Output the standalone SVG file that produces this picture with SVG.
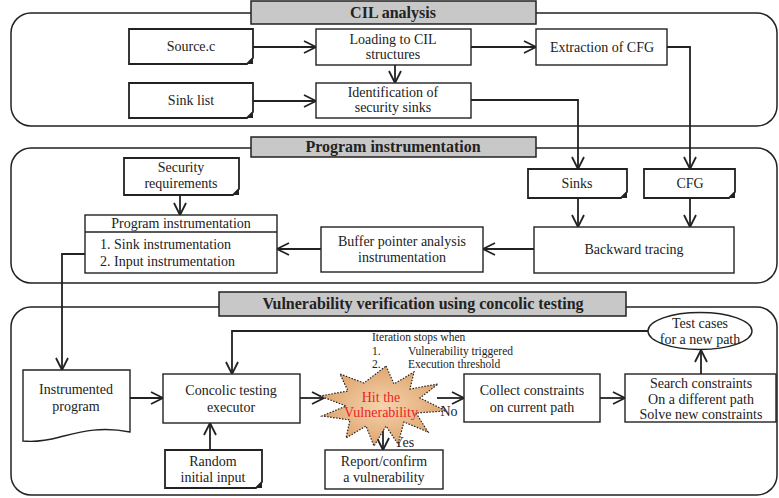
<svg xmlns="http://www.w3.org/2000/svg" width="779" height="498" viewBox="0 0 779 498" font-family="'Liberation Serif', 'DejaVu Serif', serif">
<defs>
<marker id="arr" markerWidth="14" markerHeight="14" refX="13" refY="7" orient="auto" markerUnits="userSpaceOnUse">
<path d="M1,1 L13,7 L1,13" fill="none" stroke="#222" stroke-width="1.8"/>
</marker>
<radialGradient id="star" cx="0.5" cy="0.5" r="0.6">
<stop offset="0" stop-color="#f6d3ae"/>
<stop offset="1" stop-color="#d99c62"/>
</radialGradient>
</defs>
<style>
.sec{fill:#fff;stroke:#222;stroke-width:1.5}
.hdr{fill:#c8c8c8;stroke:#222;stroke-width:1.5}
.box{fill:#fff;stroke:#222;stroke-width:1.4}
.note{fill:#fff;stroke:#222;stroke-width:1.8}
.fold{fill:#222}
.con{fill:none;stroke:#222;stroke-width:1.8}
text{font-size:14px;fill:#222;text-anchor:middle}
.h{font-size:16px;font-weight:bold}
.s{font-size:11.5px;text-anchor:start}
.l{text-anchor:start}
.red{fill:#ee2222;font-size:14px}
</style>
<rect width="779" height="498" fill="#fff"/>

<g id="section-cil">
<rect class="sec" x="11" y="13" width="766" height="113" rx="20"/>
<rect class="hdr" x="251" y="1" width="285" height="23"/>
<text class="h" x="393" y="18">CIL analysis</text>
</g>
<g id="section-prog">
<rect class="sec" x="11" y="148" width="766" height="135" rx="20"/>
<rect class="hdr" x="251" y="137" width="285" height="20"/>
<text class="h" x="393" y="152">Program instrumentation</text>
</g>
<g id="section-vuln">
<rect class="sec" x="11" y="307" width="766" height="188" rx="20"/>
<rect class="hdr" x="219" y="292" width="407" height="24"/>
<text class="h" x="423" y="309">Vulnerability verification using concolic testing</text>
</g>

<g id="connectors">
<path class="con" d="M253,47 H316" marker-end="url(#arr)"/>
<path class="con" d="M471,47 H536" marker-end="url(#arr)"/>
<path class="con" d="M395,65 V83" marker-end="url(#arr)"/>
<path class="con" d="M253,101 H316" marker-end="url(#arr)"/>
<path class="con" d="M471,100 H578 V169" marker-end="url(#arr)"/>
<path class="con" d="M667,47 H690 V169" marker-end="url(#arr)"/>
<path class="con" d="M578,198 V227" marker-end="url(#arr)"/>
<path class="con" d="M690,198 V227" marker-end="url(#arr)"/>
<path class="con" d="M534,249 H483" marker-end="url(#arr)"/>
<path class="con" d="M321,249 H277" marker-end="url(#arr)"/>
<path class="con" d="M180,195 V215" marker-end="url(#arr)"/>
<path class="con" d="M85,254 H62 V370" marker-end="url(#arr)"/>
<path class="con" d="M130,398 H163" marker-end="url(#arr)"/>
<path class="con" d="M210,450 V423" marker-end="url(#arr)"/>
<path class="con" d="M300,398 H324" marker-end="url(#arr)"/>
<path class="con" d="M437,398 H464" marker-end="url(#arr)"/>
<path class="con" d="M383,430 V450" marker-end="url(#arr)"/>
<path class="con" d="M600,398 H625" marker-end="url(#arr)"/>
<path class="con" d="M701,374 V350" marker-end="url(#arr)"/>
<path class="con" d="M648,331 H232 V374" marker-end="url(#arr)"/>
<text x="449" y="416">No</text>
<text x="404" y="447">Yes</text>
</g>

<g id="source">
<path class="note" d="M129,29 H253 V58 L247,64 H129 Z"/>
<path class="fold" d="M253,58 L247,64 L253,64 Z"/>
<text x="191" y="51">Source.c</text>
</g>
<g id="loading">
<rect class="box" x="316" y="29" width="155" height="36"/>
<text x="393" y="44">Loading to CIL</text>
<text x="393" y="59">structures</text>
</g>
<g id="extraction">
<rect class="box" x="536" y="29" width="131" height="36"/>
<text x="602" y="52">Extraction of CFG</text>
</g>
<g id="sinklist">
<path class="note" d="M129,83 H253 V112 L247,118 H129 Z"/>
<path class="fold" d="M253,112 L247,118 L253,118 Z"/>
<text x="191" y="105">Sink list</text>
</g>
<g id="identification">
<rect class="box" x="316" y="83" width="155" height="35"/>
<text x="393" y="97">Identification of</text>
<text x="393" y="112">security sinks</text>
</g>

<g id="secreq">
<path class="note" d="M124,158 H239 V189 L233,195 H124 Z"/>
<path class="fold" d="M239,189 L233,195 L239,195 Z"/>
<text x="181" y="172">Security</text>
<text x="181" y="188">requirements</text>
</g>
<g id="proginstr">
<rect class="box" x="85" y="215" width="192" height="58"/>
<line x1="85" y1="232" x2="277" y2="232" stroke="#222" stroke-width="1.4"/>
<text x="181" y="228">Program instrumentation</text>
<text class="l" x="100" y="249">1. Sink instrumentation</text>
<text class="l" x="100" y="266">2. Input instrumentation</text>
</g>
<g id="buffer">
<rect class="box" x="321" y="227" width="162" height="45"/>
<text x="402" y="246">Buffer pointer analysis</text>
<text x="402" y="262">instrumentation</text>
</g>
<g id="sinks">
<path class="note" d="M528,169 H627 V192 L621,198 H528 Z"/>
<path class="fold" d="M627,192 L621,198 L627,198 Z"/>
<text x="577" y="188">Sinks</text>
</g>
<g id="cfg">
<path class="note" d="M644,169 H735 V192 L729,198 H644 Z"/>
<path class="fold" d="M735,192 L729,198 L735,198 Z"/>
<text x="690" y="188">CFG</text>
</g>
<g id="backward">
<rect class="box" x="534" y="227" width="200" height="46"/>
<text x="634" y="254">Backward tracing</text>
</g>

<g id="instrumented">
<path class="box" d="M23,370 H130 V432 C100,426 80,432 60,437 C45,441 32,442 23,441 Z"/>
<text x="76" y="394">Instrumented</text>
<text x="76" y="411">program</text>
</g>
<g id="concolic">
<rect class="box" x="163" y="374" width="137" height="49"/>
<text x="231" y="395">Concolic testing</text>
<text x="231" y="412">executor</text>
</g>
<g id="random">
<path class="note" d="M165,450 H262 V482 L256,488 H165 Z"/>
<path class="fold" d="M262,482 L256,488 L262,488 Z"/>
<text x="213" y="466">Random</text>
<text x="213" y="482">initial input</text>
</g>
<g id="iteration">
<text class="s" x="372" y="341">Iteration stops when</text>
<text class="s" x="372" y="355">1.</text>
<text class="s" x="408" y="355">Vulnerability triggered</text>
<text class="s" x="372" y="368">2.</text>
<text class="s" x="408" y="368">Execution threshold</text>
</g>
<g id="hit">
<polygon points="386,366 394,384 414,372 410,389 438,384 420,398 446,411 416,413 428,432 404,422 398,444 386,426 374,446 366,426 346,438 350,420 322,416 346,406 320,396 348,391 340,374 364,383" fill="url(#star)" stroke="#222" stroke-width="1.2" stroke-dasharray="1.5,1.5"/>
<text class="red" x="381" y="402">Hit the</text>
<text class="red" x="381" y="417">Vulnerability</text>
</g>
<g id="report">
<rect class="box" x="325" y="450" width="118" height="39"/>
<text x="384" y="466">Report/confirm</text>
<text x="384" y="482">a vulnerability</text>
</g>
<g id="collect">
<rect class="box" x="464" y="374" width="136" height="48"/>
<text x="532" y="395">Collect constraints</text>
<text x="532" y="412">on current path</text>
</g>
<g id="search">
<rect class="box" x="625" y="374" width="151" height="48"/>
<text x="701" y="388">Search constraints</text>
<text x="701" y="404">On a different path</text>
<text x="701" y="419">Solve new constraints</text>
</g>
<g id="testcases">
<ellipse class="box" cx="700" cy="331" rx="52" ry="18.5"/>
<text x="700" y="328">Test cases</text>
<text x="700" y="344">for a new path</text>
</g>
</svg>
